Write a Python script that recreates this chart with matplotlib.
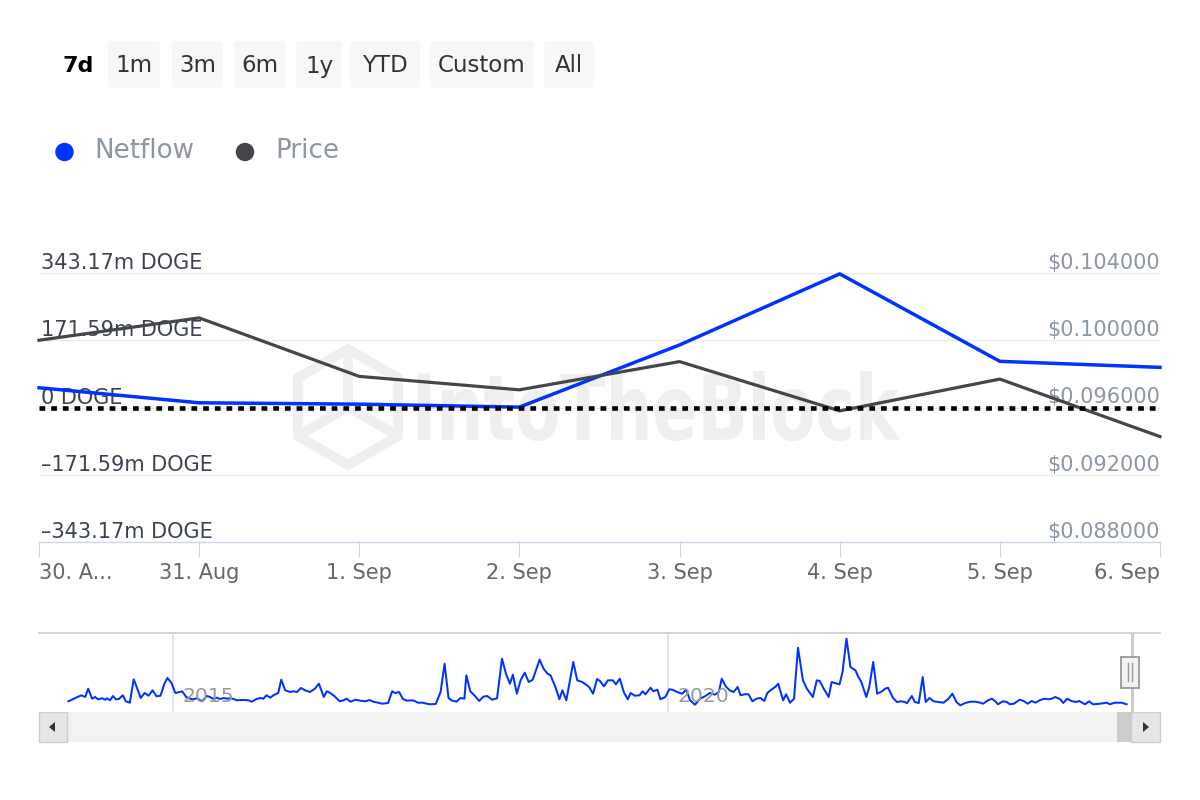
import numpy as np
import matplotlib.pyplot as plt
from matplotlib.patches import FancyBboxPatch, Rectangle, Polygon, RegularPolygon, PathPatch, Circle
from matplotlib.textpath import TextPath
from matplotlib.font_manager import FontProperties
from matplotlib.transforms import Affine2D, blended_transform_factory, offset_copy

plt.rcParams['font.family'] = ['DejaVu Sans']

W, H = 1200, 800
BLUE = '#0033ff'
GREY = '#43474b'

# ---------------- data ----------------
days = ["30. A...", "31. Aug", "1. Sep", "2. Sep", "3. Sep", "4. Sep", "5. Sep", "6. Sep"]
netflow = [50.4, 12.0, 8.5, 1.0, 159.6, 341.0, 117.8, 102.4]          # m DOGE
price = [0.10000, 0.10133, 0.09785, 0.09705, 0.09873, 0.09580, 0.09769, 0.09427]  # USD

left_ticks = [-343.17, -171.59, 0, 171.59, 343.17]
left_labels = ["–343.17m DOGE", "–171.59m DOGE", "0 DOGE", "171.59m DOGE", "343.17m DOGE"]
right_ticks = [0.088, 0.092, 0.096, 0.100, 0.104]
right_labels = ["\\$0.088000", "\\$0.092000", "\\$0.096000", "\\$0.100000", "\\$0.104000"]

buttons = ["1m", "3m", "6m", "1y", "YTD", "Custom", "All"]
legend_names = ["Netflow", "Price"]

# navigator (full history, relative netflow level)
nav_years = [
    2013.94, 2014.01, 2014.07, 2014.11, 2014.14, 2014.18, 2014.21, 2014.24, 2014.28, 2014.31,
    2014.33, 2014.36, 2014.39, 2014.42, 2014.45, 2014.49, 2014.52, 2014.56, 2014.60, 2014.64,
    2014.67, 2014.71, 2014.75, 2014.79, 2014.83, 2014.87, 2014.91, 2014.94, 2014.98, 2015.02,
    2015.06, 2015.09, 2015.13, 2015.17, 2015.20, 2015.24, 2015.29, 2015.34, 2015.37, 2015.40,
    2015.44, 2015.47, 2015.51, 2015.54, 2015.57, 2015.61, 2015.64, 2015.69, 2015.72, 2015.76,
    2015.79, 2015.84, 2015.88, 2015.91, 2015.94, 2015.98, 2016.01, 2016.06, 2016.09, 2016.13,
    2016.18, 2016.21, 2016.25, 2016.29, 2016.33, 2016.38, 2016.43, 2016.47, 2016.52, 2016.55,
    2016.58, 2016.63, 2016.68,
    2016.72, 2016.75, 2016.79, 2016.84, 2016.89, 2016.94, 2016.98, 2017.02, 2017.07, 2017.11,
    2017.17, 2017.21, 2017.24, 2017.28, 2017.32, 2017.36, 2017.41, 2017.44, 2017.47, 2017.52,
    2017.56, 2017.59, 2017.65, 2017.70, 2017.74, 2017.78, 2017.81, 2017.86, 2017.90, 2017.94,
    2017.96, 2018.00, 2018.05, 2018.09, 2018.13, 2018.17, 2018.22, 2018.27, 2018.32, 2018.36,
    2018.40, 2018.43, 2018.47, 2018.51, 2018.55, 2018.59, 2018.63, 2018.70, 2018.74, 2018.78,
    2018.81, 2018.86, 2018.90, 2018.93, 2018.97, 2019.04, 2019.08, 2019.13, 2019.17, 2019.20,
    2019.24, 2019.28, 2019.31,
    2019.35, 2019.39, 2019.44, 2019.47, 2019.51, 2019.55, 2019.59, 2019.62, 2019.66, 2019.71,
    2019.74, 2019.77, 2019.82, 2019.85, 2019.89, 2019.92, 2019.97, 2020.01, 2020.04, 2020.09,
    2020.14, 2020.18, 2020.22, 2020.27, 2020.32, 2020.37, 2020.42, 2020.47, 2020.51, 2020.54,
    2020.58, 2020.62, 2020.66, 2020.70, 2020.73, 2020.77, 2020.81, 2020.85, 2020.89, 2020.93,
    2020.97, 2021.00, 2021.04, 2021.08, 2021.11, 2021.16, 2021.19, 2021.23, 2021.27, 2021.31,
    2021.36, 2021.40, 2021.46, 2021.50, 2021.53, 2021.57, 2021.62, 2021.65, 2021.68, 2021.73,
    2021.76, 2021.80, 2021.84, 2021.89, 2021.92, 2021.95, 2022.00, 2022.03,
    2022.07, 2022.11, 2022.16, 2022.19, 2022.22, 2022.27, 2022.31, 2022.35, 2022.39, 2022.41,
    2022.46, 2022.49, 2022.53, 2022.57, 2022.60, 2022.64, 2022.68, 2022.73, 2022.78, 2022.83,
    2022.87, 2022.91, 2022.95, 2023.00, 2023.05, 2023.10, 2023.15, 2023.18, 2023.23, 2023.27,
    2023.30, 2023.33, 2023.38, 2023.42, 2023.45, 2023.49, 2023.55, 2023.59, 2023.63, 2023.67,
    2023.71, 2023.75, 2023.80, 2023.84, 2023.87, 2023.91, 2023.96, 2023.99, 2024.03, 2024.07,
    2024.12, 2024.15, 2024.21, 2024.25, 2024.29, 2024.36, 2024.43, 2024.46, 2024.51, 2024.58,
    2024.63,
]
nav_values = [
    10.7, 14, 16.7, 15, 23.3, 13.3, 15, 12.7, 13.7, 12.3,
    13.7, 11.7, 16, 12.7, 13, 16.7, 10.7, 9.3, 32.7, 22.3,
    14, 19, 16.3, 21.7, 15.7, 16.3, 28.3, 34, 29.3, 19,
    20, 20.7, 15, 13.3, 12.7, 13.7, 10.7, 16, 15, 13.3,
    14.3, 13, 14, 13.3, 13.7, 13, 11.7, 12, 12, 11.7,
    10.3, 13, 14, 13.3, 16.7, 14.3, 16.7, 19, 32.3, 21.7,
    20, 20.7, 20, 24, 21.7, 20, 23.3, 28.3, 15, 20.7,
    19.3, 15.7, 10.7,
    11.7, 13.3, 10.3, 12.3, 11.3, 10.7, 12, 10.3, 9.3, 8.3,
    9, 20.7, 19, 20, 13, 11.3, 11.7, 11, 9.3, 9.3,
    8.3, 7.7, 8, 20, 48.3, 14, 11.7, 10.3, 14, 13.3,
    36.7, 20.7, 15.7, 11, 15.3, 16, 12.3, 13.7, 53.3, 38.3,
    28.3, 37.3, 18.3, 32.3, 39.3, 30, 32.3, 52.3, 43.3, 38.3,
    36.7, 25, 12.7, 21.7, 11.7, 50, 31.7, 30, 27.3, 25,
    18.3, 33, 31,
    25.7, 31.7, 31.7, 27.7, 33.3, 20, 12.7, 19, 16.3, 16.7,
    20.7, 17.7, 24.3, 20.7, 22.3, 12.7, 15, 22.7, 22.3, 20,
    18.3, 22.3, 11.7, 7.3, 13.3, 15.7, 19, 17.3, 20, 33.3,
    25.7, 21.7, 20, 25, 16.7, 17.7, 17.7, 10.7, 13.3, 14,
    11, 19, 22.3, 25, 28.3, 11.7, 17.7, 9.3, 13.3, 64.3,
    31.7, 23.3, 15, 31.7, 31, 23.3, 15, 30, 29, 27.7,
    40, 73.3, 45, 41.7, 35, 30, 15, 25,
    50, 18.3, 20.7, 23.3, 24.3, 14, 10, 10.7, 10, 8.7,
    16, 10, 9, 35, 10, 14, 10.7, 10, 9.3, 13.3,
    18.3, 10, 6.7, 9, 10.3, 10.3, 9.3, 8.3, 11.7, 13.3,
    11, 7.7, 10.7, 10, 7.7, 8.3, 12.3, 11, 8.3, 11,
    9.3, 11.7, 13.3, 12.7, 13.3, 15, 12.7, 9, 13.3, 11,
    10, 11, 7.7, 10.7, 7.7, 8.3, 9.3, 7.7, 9.3, 9.3,
    7.7,
]
nav_ticks = [2015, 2020]
sel_end = 2024 + 249 / 366      # 6 Sep 2024

# ---------------- layout (pixels) ----------------
button_x = [(108, 160), (172, 223), (234, 285), (296, 342), (350, 420), (430, 534), (544, 594)]
legend_x = [64.5, 245]

fig = plt.figure(figsize=(W / 100, H / 100), dpi=100)


def box(x0, y0, x1, y1):
    return [x0 / W, 1 - y1 / H, (x1 - x0) / W, (y1 - y0) / H]


bg = fig.add_axes([0, 0, 1, 1], zorder=0)
bg.set_xlim(0, W)
bg.set_ylim(H, 0)
bg.axis('off')

# range selector buttons
bg.text(78, 66, "7d", ha='center', va='center', fontsize=16, fontweight='bold', color='#000000')
for name, (x0, x1) in zip(buttons, button_x):
    bg.add_patch(FancyBboxPatch((x0, 41), x1 - x0, 47, boxstyle="round,pad=0,rounding_size=4",
                                fc='#f7f7f7', ec='none'))
    bg.text((x0 + x1) / 2, 66, name, ha='center', va='center', fontsize=16.5, color='#333333')

# legend
for name, col, lx in zip(legend_names, [BLUE, GREY], legend_x):
    bg.add_patch(Circle((lx, 152), 8.5, color=col))
    bg.text(lx + 30, 151, name, ha='left', va='center', fontsize=18.8, color='#8c97a3')

# watermark
tp = TextPath((0, 0), "IntoTheBlock", size=1, prop=FontProperties(family='DejaVu Sans', weight='bold'))
ext = tp.get_extents()
tr = Affine2D().translate(-ext.x0, -ext.y0).scale(482 / ext.width, -70 / ext.height).translate(418, 441)
bg.add_patch(PathPatch(tr.transform_path(tp), fc='#efefef', ec='none'))
bg.add_patch(RegularPolygon((348, 407), 6, radius=58, fill=False, ec='#efefef', lw=7))
for ang in [90, 210, 330]:
    a = np.deg2rad(ang)
    bg.plot([348, 348 + 52 * np.cos(a)], [407, 407 - 52 * np.sin(a)], color='#efefef', lw=7,
            solid_capstyle='butt')

# scrollbar
bg.add_patch(Rectangle((39, 712), 1121, 30, fc='#f2f2f2', ec='none'))
bg.add_patch(Rectangle((39, 712), 28, 30, fc='#e6e6e6', ec='#cccccc', lw=1))
bg.add_patch(Polygon([(49, 727), (55, 722), (55, 732)], fc='#333333', ec='none'))
bg.add_patch(Rectangle((1117, 712), 14, 30, fc='#cccccc', ec='none'))
bg.add_patch(Rectangle((1131, 712), 29, 30, fc='#e6e6e6', ec='#cccccc', lw=1))
bg.add_patch(Polygon([(1149, 727), (1143, 722), (1143, 732)], fc='#333333', ec='none'))

# ---------------- main chart ----------------
x = np.arange(len(days))
ax = fig.add_axes(box(39, 273, 1160, 542), zorder=2)
ax.patch.set_alpha(0)
ax.set_xlim(0, len(days) - 1)
ax.set_ylim(left_ticks[0], left_ticks[-1])
ax2 = ax.twinx()
ax2.set_ylim(right_ticks[0], right_ticks[-1])

for t in left_ticks[1:]:
    ax.axhline(t, color='#ebebeb', lw=1, zorder=0)

ax.plot(x, netflow, color=BLUE, lw=2.5, zorder=3, clip_on=False)
ax2.plot(x, price, color=GREY, lw=2.3, zorder=3, clip_on=False)
ax2.plot([x[0], x[-1]], [0, 0], transform=ax.transData, color='black', lw=3.3,
         linestyle=(0, (1.25, 1.3)), zorder=4)

for s in ['top', 'left', 'right']:
    ax.spines[s].set_visible(False)
for s in ax2.spines.values():
    s.set_visible(False)
ax.spines['bottom'].set_color('#ccd6eb')
ax.spines['bottom'].set_linewidth(1)

ax.set_xticks(x)
ax.set_xticklabels(days, fontsize=15, color='#666666')
ax.get_xticklabels()[0].set_ha('left')
ax.get_xticklabels()[-1].set_ha('right')
ax.tick_params(axis='x', length=10.8, width=0.8, color='#ccd6eb', pad=4)
ax.tick_params(axis='y', left=False, labelleft=False)
ax2.tick_params(axis='y', right=False, labelright=False)

tl = blended_transform_factory(ax.transAxes, ax.transData)
for val, lab in zip(left_ticks, left_labels):
    ax.text(0.002, val, lab, transform=offset_copy(tl, fig=fig, y=4, units='dots'),
            ha='left', va='baseline', fontsize=15, color='#3c4350', zorder=1)
trr = blended_transform_factory(ax.transAxes, ax2.transData)
for val, lab in zip(right_ticks, right_labels):
    ax.text(1.0, val, lab, transform=offset_copy(trr, fig=fig, y=4, units='dots'),
            ha='right', va='baseline', fontsize=15, color='#8c97a3', zorder=1)

# ---------------- navigator ----------------
nav = fig.add_axes(box(39, 633, 1160, 712), zorder=2)
nav.set_xlim(2013.643, 2024.967)
nav.set_ylim(0, 79)
nav.plot(nav_years, nav_values, color=BLUE, lw=1.45, zorder=2)
for s in ['bottom', 'left', 'right']:
    nav.spines[s].set_visible(False)
nav.spines['top'].set_color('#cccccc')
nav.spines['top'].set_linewidth(1.2)
nav.set_xticks([])
nav.set_yticks([])
nt = offset_copy(blended_transform_factory(nav.transData, nav.transAxes), fig=fig, x=9, units='dots')
for yr in nav_ticks:
    nav.axvline(yr, color='#e0e0e0', lw=1.2, zorder=1)
    nav.text(yr, 0.19, str(yr), transform=nt, ha='left', va='center', fontsize=14.7,
             color='#999999', zorder=3)
nav.axvline(sel_end, color='#cccccc', lw=2.2, zorder=4)

# handle
fg = fig.add_axes([0, 0, 1, 1], zorder=5)
fg.set_xlim(0, W)
fg.set_ylim(H, 0)
fg.axis('off')
fig.canvas.draw()
hx = nav.transData.transform((sel_end, 0))[0] - 1.5
fg.add_patch(Rectangle((hx - 9.3, 657), 18.6, 30.6, fc='#f2f2f2', ec='#999999', lw=1.3))
for dx in [-2, 2]:
    fg.plot([hx + dx, hx + dx], [663, 681], color='#999999', lw=1)

fig.savefig('out.png', dpi=100, facecolor='white')
